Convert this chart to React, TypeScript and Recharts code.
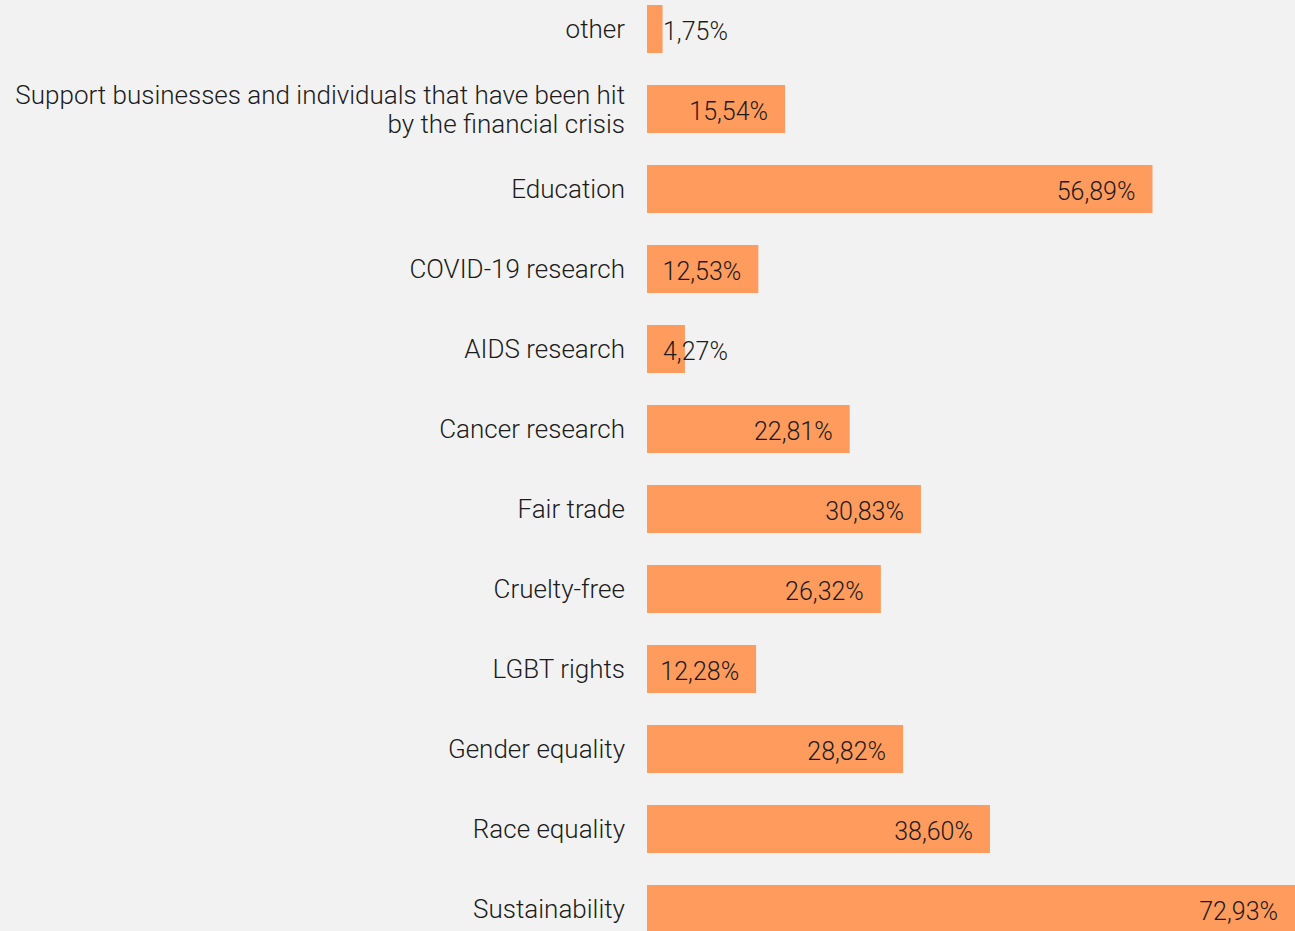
import React from 'react';
import { BarChart, Bar, XAxis, YAxis, LabelList } from 'recharts';

const categories = [
  'other',
  'Support businesses and individuals that have been hit|by the financial crisis',
  'Education',
  'COVID-19 research',
  'AIDS research',
  'Cancer research',
  'Fair trade',
  'Cruelty-free',
  'LGBT rights',
  'Gender equality',
  'Race equality',
  'Sustainability',
];
const shares = [1.75, 15.54, 56.89, 12.53, 4.27, 22.81, 30.83, 26.32, 12.28, 28.82, 38.6, 72.93];

const data = categories.map((name, i) => ({ name, value: shares[i] }));

const FONT = 'Roboto, "Liberation Sans", sans-serif';
const BAR = '#ff9b5c';
const TEXT = '#1c1c1c';

const fmt = (v: number) => v.toFixed(2).replace('.', ',') + '%';

function CategoryTick(props: any) {
  const { y, payload } = props;
  const lines = String(payload.value).split('|');
  const lh = 29;
  const start = -((lines.length - 1) * lh) / 2;
  return (
    <text x={625} y={y} textAnchor="end" fill={TEXT} fontFamily={FONT} fontWeight={300} fontSize={26}>
      {lines.map((l, i) => (
        <tspan key={i} x={625} y={y + start + i * lh} dy="0.35em">
          {l}
        </tspan>
      ))}
    </text>
  );
}

function ValueLabel(props: any) {
  const { x, y, width, height, value } = props;
  const small = value < 12;
  const tx = small ? x + 16 : x + width - 17;
  return (
    <text
      x={tx}
      y={y + height / 2 + 2}
      dy="0.35em"
      textAnchor={small ? 'start' : 'end'}
      fill={TEXT}
      fontFamily={FONT}
      fontWeight={300}
      fontSize={25}
    >
      {fmt(value)}
    </text>
  );
}

export default function App() {
  return (
    <div
      style={{
        position: 'absolute',
        left: 0,
        top: 0,
        width: 1295,
        height: 931,
        overflow: 'hidden',
        background: '#f2f2f2',
      }}
    >
      <div style={{ marginTop: -11 }}>
        <BarChart
          width={1295}
          height={960}
          data={data}
          layout="vertical"
          margin={{ top: 0, right: 0, bottom: 0, left: 0 }}
          barCategoryGap="20%"
        >
          <XAxis type="number" domain={[0, 72.93]} hide />
          <YAxis
            type="category"
            dataKey="name"
            width={647}
            axisLine={false}
            tickLine={false}
            tick={<CategoryTick />}
            interval={0}
          />
          <Bar dataKey="value" fill={BAR} isAnimationActive={false}>
            <LabelList dataKey="value" content={<ValueLabel />} />
          </Bar>
        </BarChart>
      </div>
    </div>
  );
}
